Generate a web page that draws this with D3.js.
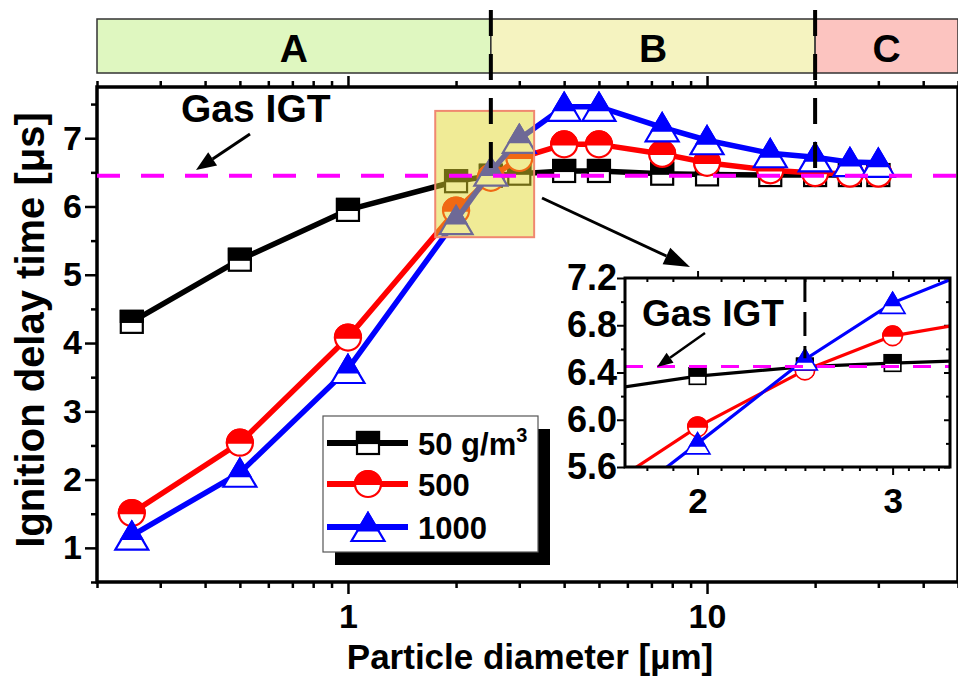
<!DOCTYPE html>
<html>
<head>
<meta charset="utf-8">
<script src="https://cdn.jsdelivr.net/npm/d3@7"></script>
<style>
  body { margin: 0; background: #fff; }
  text { font-family: "Liberation Sans", Arial, sans-serif; font-weight: bold; fill: #000; }
</style>
</head>
<body>
<svg id="chart" width="958" height="679"></svg>
<script>
// data
var diam = [0.25, 0.5, 1, 2, 2.5, 3, 4, 5, 7.5, 10, 15, 20, 25, 30]
var igt50 = [4.31, 5.22, 5.95, 6.37, 6.45, 6.48, 6.52, 6.52, 6.48, 6.47, 6.46, 6.46, 6.46, 6.46]
var igt500 = [1.51, 2.54, 4.08, 5.94, 6.42, 6.71, 6.91, 6.91, 6.77, 6.64, 6.53, 6.49, 6.48, 6.48]
var igt1000 = [1.18, 2.10, 3.62, 5.80, 6.51, 6.99, 7.46, 7.46, 7.16, 6.97, 6.78, 6.72, 6.65, 6.64]
var seriesNames = ['50 g/m', '500', '1000']
var seriesColors = ['#000000', '#ff0000', '#0000ff']
var seriesShapes = ['square', 'circle', 'triangle']
var gasIGT = 6.45
var regionNames = ['A', 'B', 'C']
var regionEdges = [0.2, 2.5, 20, 50]
var regionColors = ['#dff7c0', '#f5f3c0', '#fcc4c0']
var yTicks = [1, 2, 3, 4, 5, 6, 7]
var yMinor = [0.5, 1.5, 2.5, 3.5, 4.5, 5.5, 6.5, 7.5]
var xMajor = [1, 10]
var xMinor = [0.2, 0.3, 0.4, 0.5, 0.6, 0.7, 0.8, 0.9, 2, 3, 4, 5, 6, 7, 8, 9, 20, 30, 40, 50]
var zoomBox = [1.75, 3.3, 5.55, 7.4]   // [x0, x1, y0, y1] of highlighted area
var insetYTicks = [5.6, 6.0, 6.4, 6.8, 7.2]
var insetYMinor = [5.8, 6.2, 6.6, 7.0]
var insetXMajor = [2, 3]
var insetXMinor = [1.8, 1.9, 2.1, 2.2, 2.3, 2.4, 2.5, 2.6, 2.7, 2.8, 2.9, 3.1, 3.2, 3.3]

var series = [igt50, igt500, igt1000]
var svg = d3.select('#chart')

var x = d3.scaleLog().domain([0.2, 50]).range([97, 958])
var y = d3.scaleLinear().domain([0.5, 7.75]).range([582, 87])

//顶部区域条
var band = svg.append('g')
for (var i = 0; i < regionNames.length; i++) {
  var bx0 = x(regionEdges[i]), bx1 = x(regionEdges[i + 1])
  band.append('rect')
    .attr('x', bx0).attr('y', 19).attr('width', bx1 - bx0).attr('height', 54)
    .attr('fill', regionColors[i]).attr('stroke', '#333').attr('stroke-width', 1.5)
  band.append('text')
    .attr('x', (bx0 + bx1) / 2).attr('y', 62)
    .attr('text-anchor', 'middle').attr('font-size', 39)
    .text(regionNames[i])
}

// 坐标轴
function tickAxis(axis, vals, size, transform, fmt) {
  var g = svg.append('g').attr('transform', transform)
    .call(axis.tickValues(vals).tickSize(size).tickSizeOuter(0).tickFormat(fmt))
  g.select('.domain').remove()
  g.selectAll('line').attr('stroke', '#000').attr('stroke-width', 2.5)
  return g
}
var noLabel = function () { return '' }
tickAxis(d3.axisBottom(x), xMinor, 6, 'translate(0,582)', noLabel)
var gxb = tickAxis(d3.axisBottom(x), xMajor, 12, 'translate(0,582)', d3.format('d'))
gxb.selectAll('text').attr('font-size', 34).attr('y', 22).attr('dy', '0.71em').style('font-family', null)
tickAxis(d3.axisTop(x), xMinor, 6, 'translate(0,87)', noLabel)
tickAxis(d3.axisTop(x), xMajor, 11, 'translate(0,87)', noLabel)
tickAxis(d3.axisLeft(y), yMinor, 6, 'translate(97,0)', noLabel)
var gyl = tickAxis(d3.axisLeft(y), yTicks, 12, 'translate(97,0)', d3.format('d'))
gyl.selectAll('text').attr('font-size', 34).attr('x', -15).style('font-family', null)

svg.append('rect').attr('x', 97).attr('y', 87).attr('width', 861).attr('height', 495)
  .attr('fill', 'none').attr('stroke', '#000').attr('stroke-width', 3.5)

svg.append('text').attr('x', 530).attr('y', 669).attr('text-anchor', 'middle')
  .attr('font-size', 35).text('Particle diameter [µm]')
svg.append('text').attr('transform', 'translate(44,330) rotate(-90)')
  .attr('text-anchor', 'middle').attr('font-size', 40).text('Ignition delay time [μs]')

// 半填充符号
function marker(g, shape, cx, cy, col, s) {
  if (shape == 'square') {
    var a = 11 * s
    g.append('rect').attr('x', cx - a).attr('y', cy - a).attr('width', 2 * a).attr('height', 2 * a)
      .attr('fill', '#fff').attr('stroke', col).attr('stroke-width', 2.2 * s)
    g.append('rect').attr('x', cx - a).attr('y', cy - a).attr('width', 2 * a).attr('height', a)
      .attr('fill', col).attr('stroke', col).attr('stroke-width', 2.2 * s)
  } else if (shape == 'circle') {
    var r = 13 * s
    g.append('circle').attr('cx', cx).attr('cy', cy).attr('r', r)
      .attr('fill', '#fff').attr('stroke', col).attr('stroke-width', 2.2 * s)
    g.append('path').attr('d', 'M' + (cx - r) + ',' + cy + ' A' + r + ',' + r + ' 0 0 1 ' + (cx + r) + ',' + cy + ' Z')
      .attr('fill', col).attr('stroke', col).attr('stroke-width', 2.2 * s)
  } else {
    var w = 16.5 * s, h = 28 * s, f = 0.62
    var top = cy - h / 2
    g.append('path').attr('d', 'M' + cx + ',' + top + ' L' + (cx + w) + ',' + (top + h) + ' L' + (cx - w) + ',' + (top + h) + ' Z')
      .attr('fill', '#fff').attr('stroke', col).attr('stroke-width', 2.2 * s)
    g.append('path').attr('d', 'M' + cx + ',' + top + ' L' + (cx + w * f) + ',' + (top + h * f) + ' L' + (cx - w * f) + ',' + (top + h * f) + ' Z')
      .attr('fill', col).attr('stroke', col).attr('stroke-width', 2.2 * s)
  }
}

// 主图曲线
var plot = svg.append('g')
for (var k = 0; k < series.length; k++) {
  var line = d3.line().x(function (d, i) { return x(diam[i]) }).y(function (d) { return y(d) })
  plot.append('path').attr('d', line(series[k])).attr('fill', 'none')
    .attr('stroke', seriesColors[k]).attr('stroke-width', 5.5).attr('stroke-linejoin', 'round')
  for (var i = 0; i < diam.length; i++) {
    marker(plot, seriesShapes[k], x(diam[i]), y(series[k][i]), seriesColors[k], 1)
  }
}

// 放大区域
svg.append('rect')
  .attr('x', x(zoomBox[0])).attr('y', y(zoomBox[3]))
  .attr('width', x(zoomBox[1]) - x(zoomBox[0])).attr('height', y(zoomBox[2]) - y(zoomBox[3]))
  .attr('fill', 'rgba(224,214,41,0.49)').attr('stroke', '#f08870').attr('stroke-width', 2)

svg.append('line').attr('x1', 97).attr('x2', 958).attr('y1', y(gasIGT)).attr('y2', y(gasIGT))
  .attr('stroke', '#ff00ff').attr('stroke-width', 4).attr('stroke-dasharray', '23,21')
for (var i = 1; i < regionEdges.length - 1; i++) {
  svg.append('line').attr('x1', x(regionEdges[i])).attr('x2', x(regionEdges[i]))
    .attr('y1', 10).attr('y2', y(6.55))
    .attr('stroke', '#000').attr('stroke-width', 4).attr('stroke-dasharray', '26,18')
}

function arrow(x1, y1, x2, y2, lw, hl, hw) {
  var ang = Math.atan2(y2 - y1, x2 - x1)
  var bx = x2 - hl * Math.cos(ang), by = y2 - hl * Math.sin(ang)
  svg.append('line').attr('x1', x1).attr('y1', y1).attr('x2', bx).attr('y2', by)
    .attr('stroke', '#000').attr('stroke-width', lw)
  var px = -Math.sin(ang) * hw, py = Math.cos(ang) * hw
  svg.append('path').attr('d', 'M' + x2 + ',' + y2 + ' L' + (bx + px) + ',' + (by + py) + ' L' + (bx - px) + ',' + (by - py) + ' Z')
    .attr('fill', '#000')
}

svg.append('text').attr('x', 181).attr('y', 122).attr('font-size', 39).text('Gas IGT')
arrow(250, 134, 196, 170, 3, 20, 8)
arrow(542, 198, 690, 267, 3, 26, 9)

// 插图
var xi = d3.scaleLog().domain([1.72, 3.38]).range([625, 950])
var yi = d3.scaleLinear().domain([5.6, 7.2]).range([467, 278])
var inset = svg.append('g')
inset.append('rect').attr('x', 625).attr('y', 278).attr('width', 325).attr('height', 189).attr('fill', '#fff')
svg.append('clipPath').attr('id', 'clipInset')
  .append('rect').attr('x', 625).attr('y', 278).attr('width', 325).attr('height', 189)

function insetAxis(axis, vals, size, transform, fmt) {
  var g = inset.append('g').attr('transform', transform)
    .call(axis.tickValues(vals).tickSize(size).tickSizeOuter(0).tickFormat(fmt))
  g.select('.domain').remove()
  g.selectAll('line').attr('stroke', '#000').attr('stroke-width', 2)
  return g
}
insetAxis(d3.axisBottom(xi), insetXMinor, 4, 'translate(0,467)', noLabel)
var gib = insetAxis(d3.axisBottom(xi), insetXMajor, 8, 'translate(0,467)', d3.format('d'))
gib.selectAll('text').attr('font-size', 35).attr('dy', '1.0em').style('font-family', null)
insetAxis(d3.axisTop(xi), insetXMinor, -4, 'translate(0,278)', noLabel)
insetAxis(d3.axisTop(xi), insetXMajor, 7, 'translate(0,278)', noLabel)
insetAxis(d3.axisLeft(yi), insetYMinor, 4, 'translate(625,0)', noLabel)
var gil = insetAxis(d3.axisLeft(yi), insetYTicks, 8, 'translate(625,0)', d3.format('.1f'))
gil.selectAll('text').attr('font-size', 36).attr('x', -8).style('font-family', null)
insetAxis(d3.axisRight(yi), insetYTicks, -6, 'translate(950,0)', noLabel)
insetAxis(d3.axisRight(yi), insetYMinor, -4, 'translate(950,0)', noLabel)

var inner = inset.append('g').attr('clip-path', 'url(#clipInset)')
for (var k = 0; k < series.length; k++) {
  var iline = d3.line().x(function (d, i) { return xi(diam[i]) }).y(function (d) { return yi(d) })
  inner.append('path').attr('d', iline(series[k])).attr('fill', 'none')
    .attr('stroke', seriesColors[k]).attr('stroke-width', 3.2)
  for (var i = 0; i < diam.length; i++) {
    if (diam[i] >= 1.72 && diam[i] <= 3.38) {
      marker(inner, seriesShapes[k], xi(diam[i]), yi(series[k][i]), seriesColors[k], 0.75)
    }
  }
}
inner.append('line').attr('x1', 625).attr('x2', 950).attr('y1', yi(gasIGT)).attr('y2', yi(gasIGT))
  .attr('stroke', '#ff00ff').attr('stroke-width', 3).attr('stroke-dasharray', '18,14')
inner.append('line').attr('x1', xi(2.5)).attr('x2', xi(2.5)).attr('y1', 278).attr('y2', yi(6.52))
  .attr('stroke', '#000').attr('stroke-width', 3).attr('stroke-dasharray', '24,10')
inset.append('rect').attr('x', 625).attr('y', 278).attr('width', 325).attr('height', 189)
  .attr('fill', 'none').attr('stroke', '#000').attr('stroke-width', 3)
svg.append('text').attr('x', 642).attr('y', 326).attr('font-size', 37).text('Gas IGT')
arrow(705, 333, 657, 367, 2.5, 16, 6)

// 图例
var leg = svg.append('g')
leg.append('rect').attr('x', 335).attr('y', 429).attr('width', 215).attr('height', 136).attr('fill', '#000')
leg.append('rect').attr('x', 323).attr('y', 416).attr('width', 215).attr('height', 136)
  .attr('fill', '#fff').attr('stroke', '#555').attr('stroke-width', 1.2)
var legY = [443, 484, 527]
for (var k = 0; k < series.length; k++) {
  leg.append('line').attr('x1', 327).attr('x2', 408).attr('y1', legY[k]).attr('y2', legY[k])
    .attr('stroke', seriesColors[k]).attr('stroke-width', 6)
  marker(leg, seriesShapes[k], 368, legY[k], seriesColors[k], 1)
  var t = leg.append('text').attr('x', 418).attr('y', legY[k] + 12).attr('font-size', 31).text(seriesNames[k])
  if (k == 0) t.append('tspan').attr('dy', -13).attr('font-size', 20).text('3')
}
</script>
</body>
</html>
